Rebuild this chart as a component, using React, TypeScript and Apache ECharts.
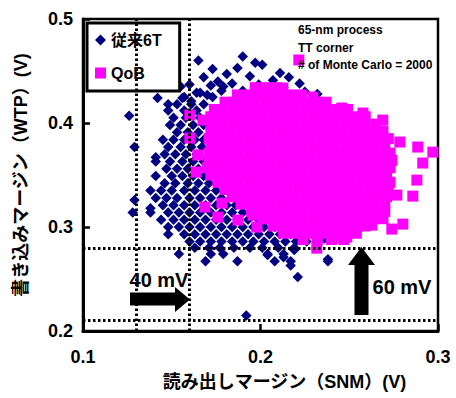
import React, { useEffect, useRef } from "react";
import * as echarts from "echarts";

const seriesNames = ["従来6T", "QoB"];
const xAxisTitle = "読み出しマージン（SNM）(V)";
const yAxisTitle = "書き込みマージン（WTP）(V)";
const xRange = [0.1, 0.3];
const yRange = [0.2, 0.5];
const tickStep = 0.1;
const refXs = [0.126, 0.16];
const refYs = [0.28, 0.215];
const noteLines = ["65-nm process", "TT corner", "# of Monte Carlo = 2000"];
const deltaLabels = ["40 mV", "60 mV"];

// 従来6T: rows of [y, x values] read from the dense part of the cloud
const conv6tRows: [number, number[]][] = [
  [0.424, [0.142, 0.156]],
  [0.418, [0.148, 0.153, 0.161, 0.168]],
  [0.412, [0.148, 0.157, 0.164]],
  [0.405, [0.151, 0.158, 0.166]],
  [0.398, [0.149, 0.155, 0.162, 0.168]],
  [0.391, [0.153, 0.159, 0.165]],
  [0.384, [0.145, 0.151, 0.157, 0.163, 0.168]],
  [0.377, [0.129, 0.148, 0.155, 0.161, 0.167]],
  [0.370, [0.146, 0.152, 0.158, 0.164]],
  [0.363, [0.141, 0.149, 0.156, 0.162, 0.168]],
  [0.356, [0.147, 0.153, 0.159, 0.165]],
  [0.349, [0.141, 0.150, 0.156, 0.162, 0.168]],
  [0.342, [0.146, 0.152, 0.159, 0.165, 0.171]],
  [0.335, [0.138, 0.144, 0.150, 0.157, 0.163, 0.169, 0.175]],
  [0.328, [0.141, 0.147, 0.153, 0.160, 0.166, 0.172, 0.178]],
  [0.321, [0.145, 0.151, 0.157, 0.163, 0.169, 0.175, 0.181, 0.186]],
  [0.314, [0.128, 0.138, 0.148, 0.154, 0.160, 0.166, 0.172, 0.178, 0.184, 0.190]],
  [0.307, [0.144, 0.151, 0.157, 0.163, 0.169, 0.175, 0.181, 0.187, 0.193, 0.199]],
  [0.300, [0.148, 0.154, 0.160, 0.166, 0.172, 0.178, 0.184, 0.190, 0.196, 0.202, 0.208, 0.214, 0.220, 0.226]],
  [0.293, [0.148, 0.157, 0.163, 0.169, 0.175, 0.181, 0.187, 0.193, 0.199, 0.205, 0.211, 0.217, 0.223, 0.229, 0.235]],
  [0.286, [0.160, 0.166, 0.172, 0.178, 0.184, 0.190, 0.196, 0.202, 0.208, 0.214, 0.220, 0.226, 0.232]],
  [0.280, [0.163, 0.171, 0.177, 0.185, 0.194, 0.201, 0.210, 0.219]],
  [0.274, [0.154, 0.172, 0.179, 0.204, 0.213]],
  [0.267, [0.169, 0.187, 0.208, 0.217, 0.238]],
];

// 従来6T: scattered points (top edge and outliers)
const conv6tPoints: [number, number][] = [
  [0.165, 0.460], [0.190, 0.464], [0.197, 0.458], [0.201, 0.456], [0.173, 0.452],
  [0.187, 0.453], [0.181, 0.447], [0.211, 0.448], [0.216, 0.444], [0.207, 0.441],
  [0.194, 0.445], [0.176, 0.440], [0.168, 0.444], [0.160, 0.437], [0.155, 0.435],
  [0.166, 0.429], [0.157, 0.425], [0.172, 0.436], [0.184, 0.438], [0.199, 0.437],
  [0.222, 0.438], [0.227, 0.419], [0.229, 0.417], [0.213, 0.434], [0.205, 0.432],
  [0.178, 0.431], [0.161, 0.421], [0.173, 0.425], [0.190, 0.431], [0.219, 0.426],
  [0.225, 0.430], [0.179, 0.435], [0.164, 0.429], [0.170, 0.427], [0.182, 0.419],
  [0.187, 0.416], [0.196, 0.429], [0.201, 0.430], [0.207, 0.435], [0.232, 0.428],
  [0.126, 0.407], [0.141, 0.367], [0.129, 0.326], [0.138, 0.318], [0.192, 0.215],
  [0.221, 0.252], [0.204, 0.273], [0.213, 0.271], [0.217, 0.263], [0.238, 0.269],
  [0.219, 0.278], [0.236, 0.289], [0.243, 0.296], [0.257, 0.300],
];

// QoB: rows of [y, x values] for the solid core
const qobRows: [number, number[]][] = [
  [0.434, [0.197, 0.203, 0.209]],
  [0.427, [0.187, 0.193, 0.199, 0.205, 0.211, 0.217, 0.223]],
  [0.420, [0.180, 0.185, 0.191, 0.197, 0.203, 0.208, 0.214, 0.220, 0.226, 0.232, 0.237]],
  [0.413, [0.174, 0.179, 0.185, 0.191, 0.196, 0.202, 0.208, 0.214, 0.219, 0.225, 0.231, 0.237, 0.243, 0.249]],
  [0.406, [0.172, 0.178, 0.184, 0.190, 0.195, 0.201, 0.207, 0.213, 0.219, 0.224, 0.230, 0.236, 0.242, 0.248, 0.254, 0.259]],
  [0.399, [0.173, 0.179, 0.185, 0.190, 0.196, 0.202, 0.208, 0.213, 0.219, 0.225, 0.231, 0.236, 0.242, 0.248, 0.253, 0.259, 0.265]],
  [0.392, [0.172, 0.177, 0.183, 0.189, 0.195, 0.200, 0.206, 0.212, 0.218, 0.223, 0.229, 0.235, 0.241, 0.246, 0.252, 0.258, 0.264, 0.269]],
  [0.385, [0.171, 0.176, 0.182, 0.188, 0.194, 0.199, 0.205, 0.211, 0.217, 0.222, 0.228, 0.234, 0.240, 0.245, 0.251, 0.257, 0.263, 0.268, 0.272]],
  [0.378, [0.172, 0.178, 0.184, 0.189, 0.195, 0.201, 0.207, 0.212, 0.218, 0.224, 0.230, 0.235, 0.241, 0.247, 0.253, 0.258, 0.264, 0.270]],
  [0.371, [0.171, 0.176, 0.182, 0.188, 0.194, 0.200, 0.205, 0.211, 0.217, 0.223, 0.228, 0.234, 0.240, 0.246, 0.251, 0.257, 0.263, 0.269, 0.273]],
  [0.364, [0.171, 0.177, 0.183, 0.189, 0.195, 0.201, 0.206, 0.212, 0.218, 0.224, 0.229, 0.235, 0.241, 0.247, 0.252, 0.258, 0.264, 0.270, 0.274]],
  [0.357, [0.170, 0.176, 0.182, 0.188, 0.193, 0.199, 0.205, 0.211, 0.216, 0.222, 0.228, 0.234, 0.239, 0.245, 0.251, 0.257, 0.262, 0.268, 0.273]],
  [0.350, [0.172, 0.178, 0.184, 0.190, 0.196, 0.201, 0.207, 0.213, 0.219, 0.224, 0.230, 0.236, 0.242, 0.247, 0.253, 0.259, 0.265, 0.271]],
  [0.343, [0.176, 0.182, 0.188, 0.194, 0.200, 0.205, 0.211, 0.217, 0.223, 0.228, 0.234, 0.240, 0.246, 0.251, 0.257, 0.263, 0.269, 0.273]],
  [0.336, [0.180, 0.186, 0.192, 0.198, 0.204, 0.209, 0.215, 0.221, 0.227, 0.232, 0.238, 0.244, 0.250, 0.255, 0.261, 0.267, 0.272]],
  [0.329, [0.184, 0.190, 0.196, 0.202, 0.208, 0.213, 0.219, 0.225, 0.231, 0.236, 0.242, 0.248, 0.254, 0.259, 0.265, 0.271]],
  [0.322, [0.189, 0.195, 0.201, 0.206, 0.212, 0.218, 0.224, 0.229, 0.235, 0.241, 0.247, 0.252, 0.258, 0.264, 0.270]],
  [0.315, [0.195, 0.201, 0.207, 0.213, 0.218, 0.224, 0.230, 0.236, 0.241, 0.247, 0.253, 0.259, 0.264, 0.270]],
  [0.308, [0.201, 0.207, 0.212, 0.218, 0.224, 0.230, 0.235, 0.241, 0.247, 0.253, 0.258, 0.264, 0.269]],
  [0.301, [0.207, 0.213, 0.219, 0.224, 0.230, 0.236, 0.242, 0.247, 0.253, 0.259]],
  [0.294, [0.213, 0.219, 0.225, 0.231, 0.236, 0.242, 0.248, 0.254]],
  [0.288, [0.224, 0.232, 0.240, 0.247]],
];

// QoB: scattered points around the core
const qobPoints: [number, number][] = [
  [0.2216, 0.4606], [0.1602, 0.4077], [0.1602, 0.3855], [0.1676, 0.4028], [0.1647, 0.3692],
  [0.1636, 0.3528], [0.2785, 0.3817], [0.2886, 0.3769], [0.2971, 0.3720], [0.2914, 0.3615],
  [0.2881, 0.3451], [0.2858, 0.3297], [0.2768, 0.3307], [0.2802, 0.3028], [0.2740, 0.2980],
  [0.2627, 0.3018], [0.1687, 0.3192], [0.1783, 0.3230], [0.1760, 0.3095], [0.1873, 0.3066],
  [0.1958, 0.3114], [0.1980, 0.2999], [0.2042, 0.3114], [0.2194, 0.2951], [0.2317, 0.2797],
  [0.2458, 0.4144], [0.2577, 0.4096], [0.2689, 0.4028], [0.2295, 0.4250], [0.2126, 0.4336],
  [0.2486, 0.2903], [0.2436, 0.2893],
];

const rowsToPoints = (rows: [number, number[]][]) =>
  rows.flatMap(([y, xs]) => xs.map((x) => [x, y]));

const FONT = '"Liberation Sans", Arial, "Noto Sans CJK JP", sans-serif';

export default function App() {
  const ref = useRef<HTMLDivElement>(null);
  useEffect(() => {
    if (!ref.current) return;
    const chart = echarts.init(ref.current, null, { renderer: "svg" });
    const conv6tData = [...rowsToPoints(conv6tRows), ...conv6tPoints];
    const qobData = [...rowsToPoints(qobRows), ...qobPoints];
    const axisLabel = {
      fontFamily: FONT,
      fontWeight: "bold" as const,
      fontSize: 18,
      color: "#000",
      formatter: (v: number) => v.toFixed(1),
    };
    chart.setOption({
      animation: false,
      backgroundColor: "#fff",
      grid: {
        left: 83,
        right: 18,
        top: 19,
        bottom: 67,
        show: true,
        borderColor: "#000",
        borderWidth: 2.5,
        backgroundColor: "transparent",
        outerBoundsMode: "none",
      },
      legend: {
        data: [
          { name: seriesNames[0], icon: "diamond" },
          { name: seriesNames[1], icon: "rect" },
        ],
        orient: "vertical",
        left: 87,
        top: 23,
        padding: [9, 18, 10, 8],
        itemGap: 17,
        itemWidth: 11,
        itemHeight: 11,
        borderColor: "#000",
        borderWidth: 3,
        borderRadius: 0,
        backgroundColor: "#fff",
        selectedMode: false,
        textStyle: { fontFamily: FONT, fontWeight: "bold", fontSize: 16, color: "#000", lineHeight: 16 },
      },
      xAxis: {
        type: "value",
        min: xRange[0],
        max: xRange[1],
        interval: tickStep,
        name: xAxisTitle,
        nameLocation: "middle",
        nameGap: 42,
        nameTextStyle: { fontFamily: FONT, fontWeight: "bold", fontSize: 18, color: "#000000", padding: [0, 0, 0, 48] },
        axisLine: { lineStyle: { color: "#000", width: 3 } },
        axisTick: { inside: true, length: 7, lineStyle: { color: "#000", width: 2.5 } },
        axisLabel: { ...axisLabel, margin: 17 },
        splitLine: { show: false },
      },
      yAxis: {
        type: "value",
        min: yRange[0],
        max: yRange[1],
        interval: tickStep,
        name: yAxisTitle,
        nameLocation: "middle",
        nameGap: 53,
        nameTextStyle: { fontFamily: FONT, fontWeight: "bold", fontSize: 18, color: "#000000" },
        axisLine: { lineStyle: { color: "#000", width: 3 } },
        axisTick: { inside: true, length: 7, lineStyle: { color: "#000", width: 2.5 } },
        axisLabel: { ...axisLabel, margin: 10 },
        splitLine: { show: false },
      },
      series: [
        {
          type: "scatter",
          name: seriesNames[0],
          data: conv6tData,
          symbol: "diamond",
          symbolSize: 10.5,
          itemStyle: { color: "#000080", opacity: 1 },
          emphasis: { disabled: true },
          silent: true,
        },
        {
          type: "scatter",
          name: seriesNames[1],
          data: qobData,
          symbol: "rect",
          symbolSize: 11,
          itemStyle: { color: "#FF00FF", opacity: 1 },
          emphasis: { disabled: true },
          silent: true,
          markLine: {
            silent: true,
            symbol: "none",
            label: { show: false },
            lineStyle: { color: "#000", width: 3, type: [2.5, 2.5], opacity: 1 },
            data: [
              ...refXs.map((v) => ({ xAxis: v })),
              ...refYs.map((v) => ({ yAxis: v })),
            ],
          },
        },
      ],
      graphic: [
        ...noteLines.map((t, i) => ({
          type: "text",
          x: 298,
          y: 30 + i * 17.5,
          z: 100,
          style: {
            text: t,
            font: `bold 12px ${FONT}`,
            fill: "#000",
            verticalAlign: "middle",
            textVerticalAlign: "middle",
            align: "left",
          },
        })),
        {
          type: "polygon",
          z: 100,
          shape: {
            points: [
              [130, 292.5], [175, 292.5], [175, 287], [190, 299.5], [175, 312], [175, 305.5], [130, 305.5],
            ],
          },
          style: { fill: "#000" },
        },
        {
          type: "polygon",
          z: 100,
          shape: {
            points: [
              [354.5, 315], [354.5, 265], [348, 265], [361.5, 247], [375, 265], [368.5, 265], [368.5, 315],
            ],
          },
          style: { fill: "#000" },
        },
        {
          type: "text",
          x: 159,
          y: 280,
          z: 100,
          style: {
            text: deltaLabels[0],
            font: `bold 20px ${FONT}`,
            fill: "#000",
            align: "center",
            textAlign: "center",
            verticalAlign: "middle",
            textVerticalAlign: "middle",
          },
        },
        {
          type: "text",
          x: 402,
          y: 287,
          z: 100,
          style: {
            text: deltaLabels[1],
            font: `bold 20px ${FONT}`,
            fill: "#000",
            align: "center",
            textAlign: "center",
            verticalAlign: "middle",
            textVerticalAlign: "middle",
          },
        },
      ],
    });
    return () => chart.dispose();
  }, []);
  return (
    <div
      ref={ref}
      style={{ position: "fixed", left: 0, top: 0, width: 456, height: 398, background: "#fff" }}
    />
  );
}
